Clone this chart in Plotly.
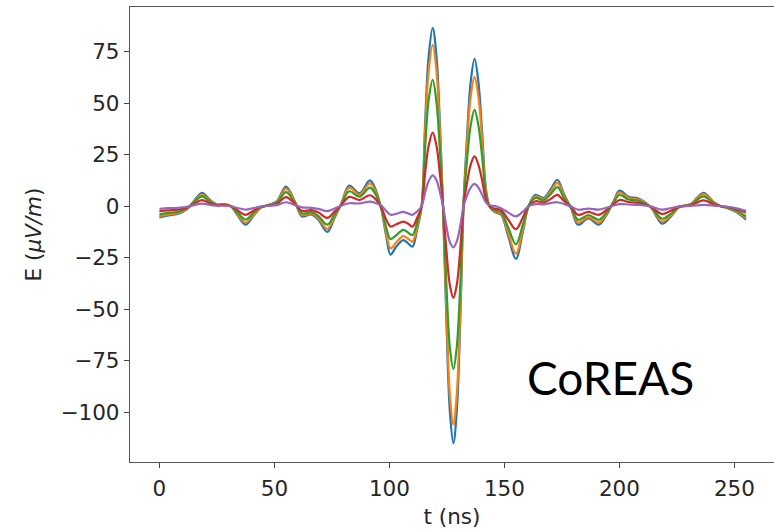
import plotly.graph_objects as go

# Time knots (ns) of the radio pulse traces
t_ns = [
    0, 4, 8, 12, 15, 18.5, 22, 25,
    28, 31, 34, 37.5, 41, 44, 47, 51,
    55, 59, 62, 66, 69, 73, 76, 79,
    82.5, 87, 91.5, 94, 96.5, 98.5, 100.5, 103,
    106, 108, 110, 112, 114, 115.5, 117, 118.8,
    120.5, 122, 123.3, 124.8, 126.3, 127.8, 129.3, 130.8,
    132.2, 133.7, 135.3, 137, 138.7, 140.3, 142, 143.7,
    146, 148.5, 151.5, 155, 158, 160.5, 163.5, 167,
    170, 173, 176, 179, 182, 186.5, 191, 194,
    197.5, 200, 204, 208, 211, 214, 218.5, 222,
    226, 231, 236.5, 241, 244, 247, 251, 255,
]

# Electric field (uV/m) for five antennas
e_blue = [
    -5.5, -4.5, -3.8, -1.5, 2.5, 6.5, 3.0, 0.8,
    1.0, 0.0, -4.5, -9.0, -4.5, -0.8, 0.5, 2.3,
    9.5, 2.0, -5.0, -4.0, -6.5, -12.5, -6.0, 1.0,
    10.0, 6.3, 12.5, 8.0, -1.5, -14.0, -23.5, -19.6,
    -16.5, -17.9, -19.6, -11.5, 0.0, 40.0, 72.0, 86.5,
    72.0, 38.0, 0.0, -57.0, -100.0, -115.0, -99.0, -55.0,
    0.0, 33.0, 60.0, 71.5, 60.0, 36.0, 8.0, -0.5,
    -3.0, -4.0, -14.0, -25.5, -12.5, 0.0, 5.5, 4.0,
    8.0, 12.8, 5.5, -1.0, -9.0, -6.0, -9.0, -5.0,
    2.5, 7.5, 4.5, 3.8, 2.0, -1.0, -8.5, -5.5,
    -0.5, 1.0, 6.5, 2.0, 0.0, -1.0, -3.0, -6.5,
]
e_orange = [
    -4.8, -4.0, -3.4, -1.3, 2.2, 5.6, 2.6, 0.7,
    0.9, 0.0, -4.0, -8.0, -4.0, -0.7, 0.4, 2.0,
    8.5, 1.8, -4.4, -3.5, -5.7, -11.0, -5.3, 0.9,
    9.0, 5.6, 11.0, 7.0, -1.3, -12.5, -20.5, -17.5,
    -14.5, -15.7, -17.2, -10.2, 0.0, 36.0, 65.0, 78.3,
    65.0, 34.0, 0.0, -52.0, -92.0, -106.0, -91.0, -50.0,
    0.0, 29.0, 53.0, 62.6, 53.0, 32.0, 7.0, -0.4,
    -2.6, -3.5, -12.5, -23.0, -11.3, 0.0, 4.8, 3.5,
    7.0, 11.3, 4.8, -0.9, -8.0, -5.3, -8.0, -4.4,
    2.2, 6.6, 4.0, 3.3, 1.8, -0.9, -7.5, -4.8,
    -0.4, 0.9, 5.8, 1.8, 0.0, -0.9, -2.7, -5.8,
]
e_green = [
    -4.0, -3.3, -2.8, -1.1, 1.8, 4.7, 2.2, 0.6,
    0.7, 0.0, -3.2, -6.5, -3.2, -0.6, 0.4, 1.6,
    6.8, 1.4, -3.6, -2.9, -4.7, -9.0, -4.3, 0.7,
    7.2, 4.6, 9.0, 5.7, -1.1, -10.0, -16.0, -14.0,
    -11.5, -12.7, -14.0, -8.2, 0.0, 28.0, 51.0, 61.3,
    50.0, 26.0, 0.0, -39.0, -69.0, -79.0, -68.0, -38.0,
    0.0, 22.0, 39.0, 46.7, 39.0, 24.0, 5.5, -0.3,
    -2.1, -2.9, -10.0, -18.5, -9.0, 0.0, 4.0, 2.9,
    5.7, 9.2, 3.9, -0.7, -6.6, -4.3, -6.6, -3.6,
    1.8, 5.4, 3.2, 2.7, 1.4, -0.7, -6.1, -4.0,
    -0.4, 0.7, 4.7, 1.4, 0.0, -0.7, -2.2, -5.0,
]
e_red = [
    -2.4, -2.0, -1.7, -0.7, 1.1, 2.9, 1.4, 0.4,
    0.5, 0.0, -2.1, -4.2, -2.1, -0.4, 0.2, 1.0,
    4.4, 0.9, -2.3, -1.9, -3.0, -5.7, -2.8, 0.5,
    4.5, 3.0, 5.3, 3.4, -0.7, -6.3, -9.9, -8.8,
    -7.5, -8.4, -9.9, -5.8, 0.0, 16.0, 29.0, 35.7,
    29.0, 15.0, 0.0, -22.0, -38.5, -44.5, -38.0, -21.0,
    0.0, 11.0, 20.0, 24.1, 20.0, 12.5, 3.0, -0.2,
    -1.3, -1.9, -6.3, -11.2, -5.5, 0.0, 2.4, 1.8,
    3.4, 5.5, 2.4, -0.4, -4.2, -2.8, -4.2, -2.2,
    0.9, 3.0, 2.0, 1.6, 0.8, -0.5, -3.8, -2.4,
    -0.2, 0.4, 2.8, 0.9, 0.0, -0.4, -1.5, -3.2,
]
e_purple = [
    -1.3, -1.0, -0.8, -0.3, 0.5, 1.2, 0.6, 0.2,
    0.2, 0.0, -0.9, -1.7, -0.9, -0.2, 0.2, 0.5,
    1.9, 0.5, -0.6, -0.8, -1.3, -2.4, -1.3, 0.2,
    1.4, 1.3, 2.2, 1.5, 0.2, -2.2, -4.2, -3.7,
    -2.8, -3.5, -4.2, -2.6, 0.0, 6.5, 12.0, 14.9,
    12.5, 6.5, 0.0, -10.0, -17.5, -20.0, -17.0, -9.5,
    0.0, 5.0, 9.0, 10.8, 9.0, 5.5, 1.8, 0.4,
    0.0, -1.0, -3.0, -5.0, -2.7, 0.0, 1.0, 0.9,
    1.5, 1.9, 1.0, -0.2, -1.7, -1.2, -1.7, -0.9,
    0.3, 1.0, 0.8, 0.6, 0.3, -0.2, -1.7, -1.0,
    -0.1, 0.1, 0.6, 0.3, 0.0, -0.3, -1.0, -2.2,
]

series = [e_blue, e_orange, e_green, e_red, e_purple]
colors = ["#1f77b4", "#ff7f0e", "#2ca02c", "#d62728", "#9467bd"]

x_ticks = [0, 50, 100, 150, 200, 250]
y_ticks = [-100, -75, -50, -25, 0, 25, 50, 75]

fig = go.Figure()
for vals, col in zip(series, colors):
    fig.add_trace(go.Scatter(
        x=t_ns, y=vals, mode="lines",
        line=dict(color=col, width=2.2, shape="spline", smoothing=1.0),
        showlegend=False, hoverinfo="skip",
    ))

tick_font = dict(family="DejaVu Sans", size=21.5, color="#262626")

fig.update_layout(
    width=774, height=530,
    margin=dict(l=130, r=0, t=7, b=68),
    paper_bgcolor="white", plot_bgcolor="white",
    xaxis=dict(
        range=[-12.8, 267.2], tickvals=x_ticks,
        ticks="outside", ticklen=5, tickwidth=1, tickcolor="#444",
        showline=True, linecolor="#555", linewidth=1.3, mirror=True,
        showgrid=False, zeroline=False, tickfont=tick_font,
        ticklabelstandoff=2, automargin=False,
        title=dict(text="t (ns)", font=tick_font, standoff=8),
    ),
    yaxis=dict(
        range=[-124.1, 96.6], tickvals=y_ticks,
        ticks="outside", ticklen=5, tickwidth=1, tickcolor="#444",
        showline=True, linecolor="#555", linewidth=1.3,
        showgrid=False, zeroline=False, tickfont=tick_font,
        automargin=False,
        title=dict(text="E (<i>μV/m</i>)", font=tick_font, standoff=12),
    ),
    annotations=[dict(
        x=195.9, y=-83.3, xref="x", yref="y",
        text="CoREAS", showarrow=False,
        font=dict(family="Lato", size=46, color="black"),
        xanchor="center", yanchor="middle",
    )],
)

fig.write_html("out.html")
